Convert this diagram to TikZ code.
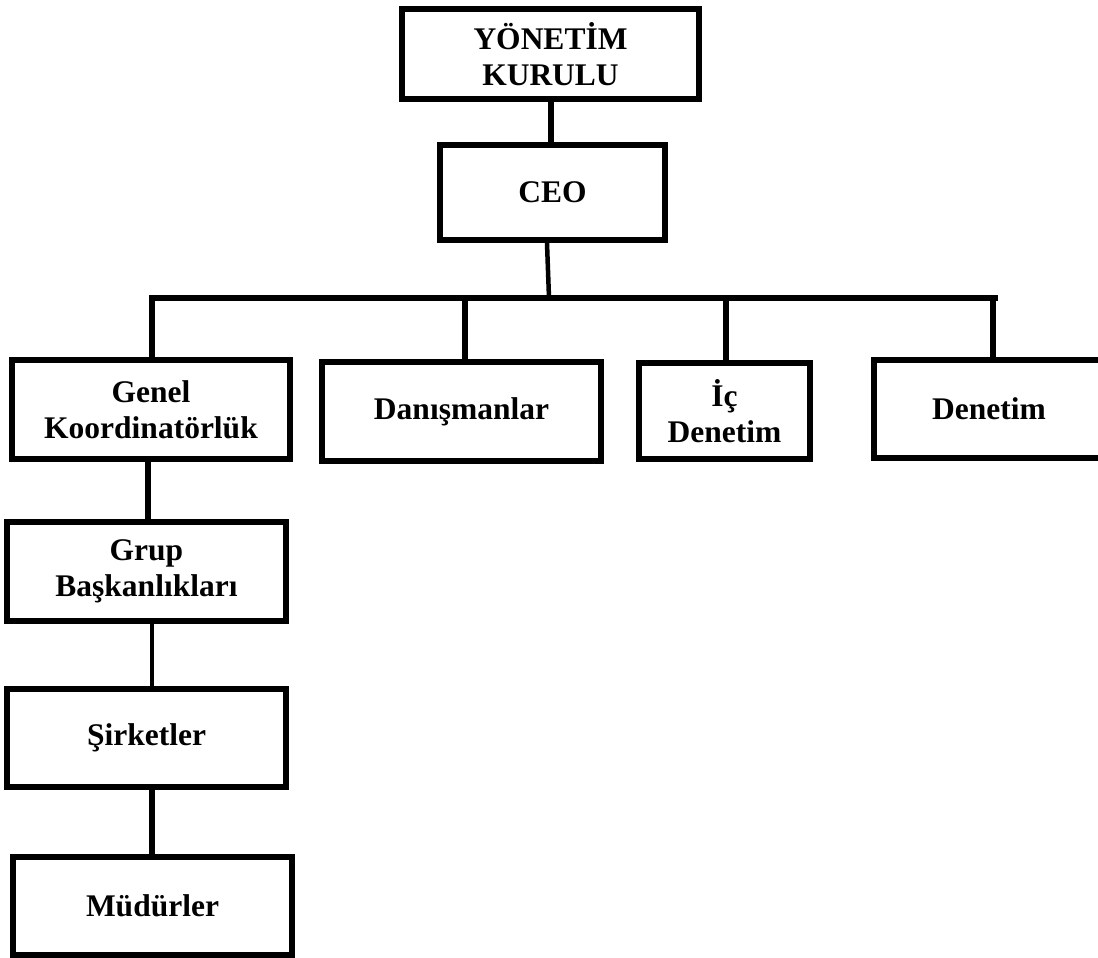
\documentclass[tikz,border=0pt]{standalone}
\usepackage{fontspec}
\setmainfont{Liberation Serif}
\begin{document}
\begin{tikzpicture}[x=1pt,y=-1pt,
  unit/.style={draw=black, line width=6pt, inner sep=0pt, align=center,
    font=\fontsize{31.5}{36}\selectfont\bfseries, text=black},
  link/.style={draw=black, line width=6pt},
  thinlink/.style={draw=black, line width=4.5pt}]
\useasboundingbox (0,0) rectangle (1098,958);

% organisation units
\node[unit, minimum width=297pt, minimum height=90pt] (yk)   at (550.5,54)   {YÖNETİM\\KURULU};
\node[unit, minimum width=225pt, minimum height=95pt] (ceo)  at (552.5,192.5) {CEO};
\node[unit, minimum width=278pt, minimum height=99pt] (gen)  at (151,409.5)  {Genel\\Koordinatörlük};
\node[unit, minimum width=279pt, minimum height=99pt] (dan)  at (461.5,411.5) {Danışmanlar};
\node[unit, minimum width=171pt, minimum height=96pt] (ic)   at (724.5,411)  {İç\\Denetim};
\node[unit, minimum width=230pt, minimum height=98pt] (den)  at (989,409)    {Denetim};
\node[unit, minimum width=279pt, minimum height=99pt] (grup) at (146.5,571.5) {Grup\\Başkanlıkları};
\node[unit, minimum width=279pt, minimum height=98pt] (sirk) at (146.5,738)  {Şirketler};
\node[unit, minimum width=279pt, minimum height=98pt] (mud)  at (152.5,906)  {Müdürler};

% horizontal bus under the CEO
\coordinate (busL) at (152,298);
\coordinate (busC) at (549,298);
\coordinate (busR) at (995,298);
\coordinate (dropD) at (465,298);
\coordinate (dropI) at (726,298);
\coordinate (dropE) at (993,298);

\draw[link] ([xshift=0.5pt]yk.south) -- ([xshift=-1.5pt]ceo.north);
\draw[thinlink] ([xshift=-5.5pt]ceo.south) -- (busC);
\draw[link, line cap=rect] (busL) -- (busR);
\draw[link] (busL) -- (busL |- gen.north);
\draw[link] (dropD) -- (dropD |- dan.north);
\draw[link] (dropI) -- (dropI |- ic.north);
\draw[link] (dropE) -- (dropE |- den.north);

% chain below the general coordination
\draw[link] ([xshift=-3pt]gen.south) -- ([xshift=1.5pt]grup.north);
\draw[thinlink] ([xshift=5.5pt]grup.south) -- ([xshift=5.5pt]sirk.north);
\draw[link] ([xshift=5.5pt]sirk.south) -- ([xshift=-0.5pt]mud.north);
\end{tikzpicture}
\end{document}
